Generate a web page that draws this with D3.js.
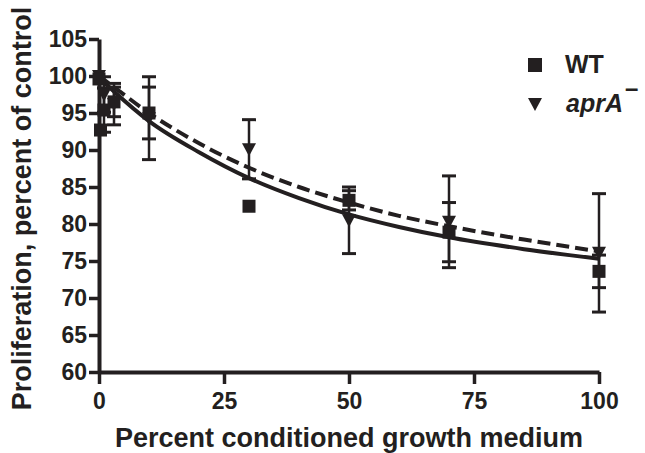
<!DOCTYPE html>
<html>
<head>
<meta charset="utf-8">
<script src="https://cdn.jsdelivr.net/npm/d3@7"></script>
<style>
  body { margin: 0; background: #fff; }
  svg { display: block; font-family: "Liberation Sans", Arial, sans-serif; }
</style>
</head>
<body>
<div id="chart"></div>
<script>
// Percent conditioned medium (x) and proliferation, percent of control (y)
const wtX = [0, 0.3, 1, 3, 10, 30, 50, 70, 100];
const wtY = [99.6, 92.7, 95.4, 96.5, 95.0, 82.4, 83.2, 78.9, 73.6];
const wtErr = [0, 0, 3.0, 2.0, 3.5, 0, 1.3, 4.0, 2.2];

const aprX = [0, 1, 3, 10, 30, 50, 70, 100];
const aprY = [100, 97.5, 96.2, 94.3, 90.1, 80.5, 80.3, 76.1];
const aprErr = [0, 2.4, 2.8, 5.6, 4.0, 4.5, 6.2, 8.0];

// fitted curves
const fitX = [0, 3, 10, 20, 30, 40, 50, 60, 70, 85, 100];
const wtFit = [99.8, 97.9, 93.9, 89.7, 86.2, 83.5, 81.3, 79.6, 78.2, 76.6, 75.3];
const aprFit = [100, 98.5, 95.0, 90.9, 87.6, 85.0, 82.9, 81.1, 79.7, 77.9, 76.3];

const xTicks = [0, 25, 50, 75, 100];
const yTicks = [60, 65, 70, 75, 80, 85, 90, 95, 100, 105];

const ink = "#231f20";
const width = 645;
const height = 453;

const svg = d3.select("#chart")
    .append("svg")
    .attr("width", width)
    .attr("height", height);

const x = d3.scaleLinear().domain([0, 100]).range([99, 599]);
const y = d3.scaleLinear().domain([60, 105]).range([372, 39]);

// axes
const xAxis = svg.append("g")
    .attr("transform", `translate(0,${y(60)})`)
    .call(d3.axisBottom(x).tickValues(xTicks).tickSize(12).tickSizeOuter(0).tickPadding(9));

const yAxis = svg.append("g")
    .attr("transform", `translate(${x(0)},0)`)
    .call(d3.axisLeft(y).tickValues(yTicks).tickSize(10).tickSizeOuter(0).tickPadding(2));

[xAxis, yAxis].forEach((g) => {
    g.select(".domain").attr("stroke", ink).attr("stroke-width", 4);
    g.selectAll(".tick line").attr("stroke", ink).attr("stroke-width", 3.5);
    g.selectAll(".tick text")
        .attr("fill", ink)
        .attr("font-size", 23)
        .attr("font-weight", "bold")
        .attr("font-family", "'Liberation Sans', Arial, sans-serif");
});

// axis titles
svg.append("text")
    .attr("x", (x(0) + x(100)) / 2)
    .attr("y", 447)
    .attr("text-anchor", "middle")
    .attr("font-size", 27)
    .attr("font-weight", "bold")
    .attr("fill", ink)
    .text("Percent conditioned growth medium");

svg.append("text")
    .attr("transform", `translate(31,${(y(60) + y(105)) / 2 + 3}) rotate(-90)`)
    .attr("text-anchor", "middle")
    .attr("font-size", 27)
    .attr("font-weight", "bold")
    .attr("fill", ink)
    .text("Proliferation, percent of control");

// fitted curves
const line = d3.line()
    .x((d) => x(d[0]))
    .y((d) => y(d[1]))
    .curve(d3.curveMonotoneX);

svg.append("path")
    .datum(d3.zip(fitX, wtFit))
    .attr("d", line)
    .attr("fill", "none")
    .attr("stroke", ink)
    .attr("stroke-width", 4);

svg.append("path")
    .datum(d3.zip(fitX, aprFit))
    .attr("d", line)
    .attr("fill", "none")
    .attr("stroke", ink)
    .attr("stroke-width", 4)
    .attr("stroke-dasharray", "13,6");

// error bars
const drawErrors = (xs, ys, errs) => {
    const rows = d3.zip(xs, ys, errs).filter((d) => d[2] > 0);
    const g = svg.append("g").attr("stroke", ink);

    g.selectAll("line.bar")
        .data(rows)
        .join("line")
        .attr("class", "bar")
        .attr("x1", (d) => x(d[0]))
        .attr("x2", (d) => x(d[0]))
        .attr("y1", (d) => y(d[1] - d[2]))
        .attr("y2", (d) => y(d[1] + d[2]))
        .attr("stroke-width", 2.5);

    const caps = rows.flatMap((d) => [[d[0], d[1] - d[2]], [d[0], d[1] + d[2]]]);

    g.selectAll("line.cap")
        .data(caps)
        .join("line")
        .attr("class", "cap")
        .attr("x1", (d) => x(d[0]) - 7)
        .attr("x2", (d) => x(d[0]) + 7)
        .attr("y1", (d) => y(d[1]))
        .attr("y2", (d) => y(d[1]))
        .attr("stroke-width", 3);
};

drawErrors(aprX, aprY, aprErr);
drawErrors(wtX, wtY, wtErr);

// markers
const trianglePath = "M-7,-6L7,-6L0,7Z";

svg.append("g")
    .selectAll("path")
    .data(d3.zip(aprX, aprY))
    .join("path")
    .attr("d", trianglePath)
    .attr("transform", (d) => `translate(${x(d[0])},${y(d[1])})`)
    .attr("fill", ink);

svg.append("g")
    .selectAll("rect")
    .data(d3.zip(wtX, wtY))
    .join("rect")
    .attr("x", (d) => x(d[0]) - 6.5)
    .attr("y", (d) => y(d[1]) - 6.5)
    .attr("width", 13)
    .attr("height", 13)
    .attr("fill", ink);

// legend
const legend = svg.append("g");

legend.append("rect")
    .attr("x", 528)
    .attr("y", 58)
    .attr("width", 14)
    .attr("height", 14)
    .attr("fill", ink);

legend.append("text")
    .attr("x", 565)
    .attr("y", 73)
    .attr("font-size", 25)
    .attr("font-weight", "bold")
    .attr("fill", ink)
    .text("WT");

legend.append("path")
    .attr("d", trianglePath)
    .attr("transform", "translate(535,104)")
    .attr("fill", ink);

const aprLabel = legend.append("text")
    .attr("x", 566)
    .attr("y", 112)
    .attr("font-size", 25)
    .attr("font-weight", "bold")
    .attr("fill", ink);

aprLabel.append("tspan")
    .attr("font-style", "italic")
    .text("aprA");

aprLabel.append("tspan")
    .attr("dx", 2)
    .attr("dy", -16)
    .attr("font-size", 24)
    .text("\u2013");
</script>
</body>
</html>
